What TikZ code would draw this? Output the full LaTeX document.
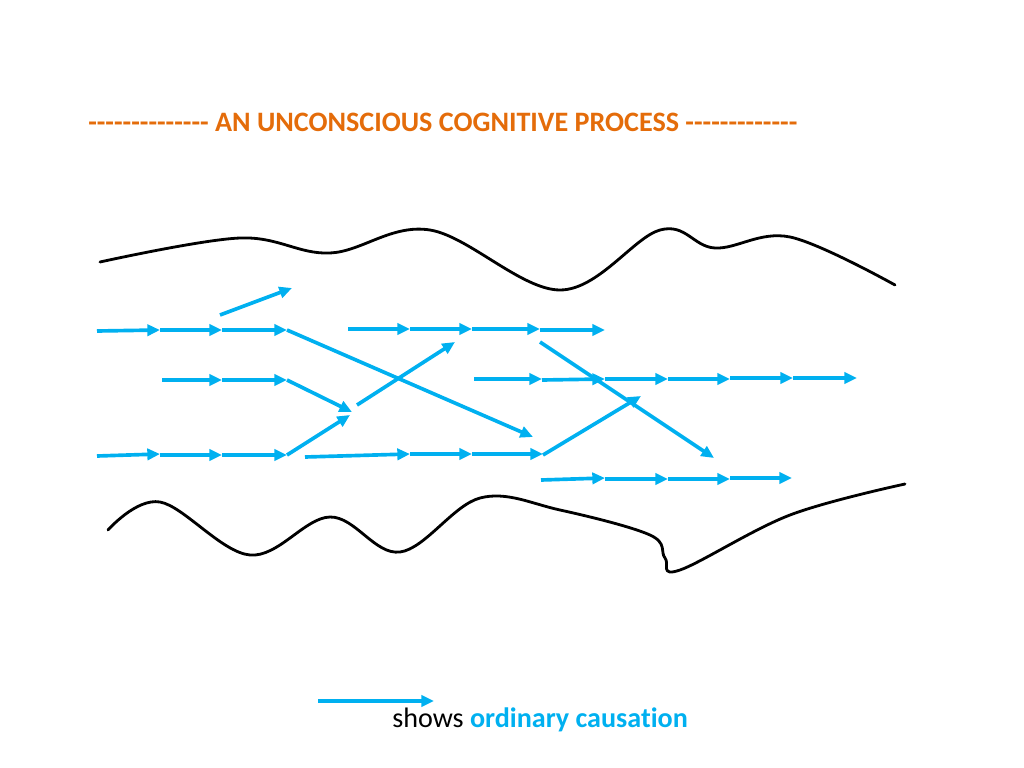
\documentclass[tikz,border=0pt]{standalone}
\usepackage{fontspec}
\setmainfont{Carlito}[Ligatures={NoCommon}]
\usetikzlibrary{arrows.meta}
\definecolor{cyanA}{RGB}{0,176,240}
\definecolor{orangeA}{RGB}{228,108,10}
\newcommand\hyrun[1]{\foreach\i in{1,...,#1}{-{}}}
\begin{document}
\begin{tikzpicture}[x=0.025cm,y=-0.025cm,
  cause/.style={cyanA,line width=2.6pt,-{Triangle[length=9pt,width=8pt]}},
  wave/.style={black,line width=2pt,line cap=round}]
\useasboundingbox (0,0) rectangle (1024,768);
\node[orangeA,font=\bfseries\fontsize{20}{24}\selectfont,anchor=west,inner sep=0pt] (title) at (88,122) {\hyrun{14} AN UNCONSCIOUS COGNITIVE PROCESS \hyrun{13}};
\draw[wave] plot[smooth,tension=0.6] coordinates {(100,262) (240,238) (330,253) (430,230) (560,290) (660,230) (715,248) (790,237) (895,285)};
\draw[wave] plot[smooth,tension=0.6] coordinates {(108,530) (160,502) (250,555) (330,517) (400,552) (480,498) (560,510) (650,535) (665,558) (680,570) (790,515) (905,484)};
\foreach \a/\b/\c/\d in {97/331/160/330,160/330/222/330,222/330/287/330,
  348/329/410/329,410/329/472/329,472/329/540/329,540/330/605/330,
  220/315/292/288,
  162/380/222/380,222/380/287/380,
  474/379/542/379,542/380/605/379,605/379/668/379,668/379/730/379,730/378/793/378,793/378/857/378,
  97/456/160/454,160/455/222/455,222/455/287/455,
  305/457/410/454,410/454/472/454,472/454/543/454,
  541/480/605/478,605/479/668/479,668/479/730/479,730/478/792/478,
  287/330/533/437,287/380/352/412,287/455/350/415,357/405/455/342,540/342/714/458,543/455/641/396}
  \draw[cause] (\a,\b) -- (\c,\d);
\coordinate (la) at (318,701); \coordinate (lb) at (434,701);
\draw[cause] (la) -- (lb);
\node[anchor=west,inner sep=0pt,font=\fontsize{20}{24}\selectfont] (leg) at (392,720) {shows \textcolor{cyanA}{\bfseries ordinary causation}};
\end{tikzpicture}
\end{document}
